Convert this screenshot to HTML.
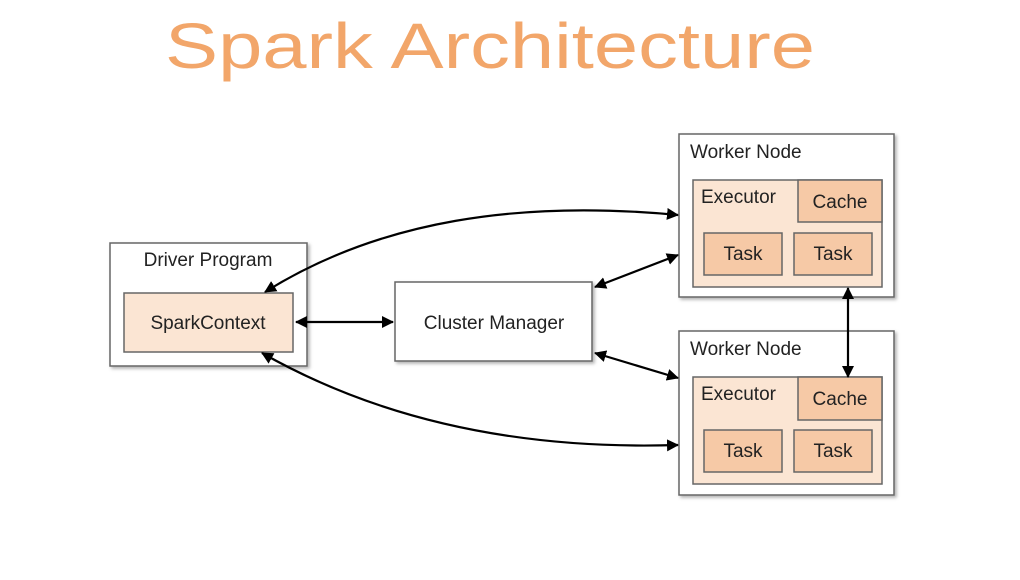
<!DOCTYPE html>
<html><head><style>body{margin:0;background:#fff}svg{display:block}</style></head><body>
<svg width="1020" height="580" viewBox="0 0 1020 580" xmlns="http://www.w3.org/2000/svg" font-family="Liberation Sans, sans-serif">
<defs>
<marker id="a" markerWidth="12" markerHeight="12" refX="11" refY="6" orient="auto-start-reverse" markerUnits="userSpaceOnUse"><path d="M0,0 L12,6 L0,12 z" fill="#000"/></marker>
<filter id="s" x="-5%" y="-5%" width="115%" height="115%"><feDropShadow dx="2" dy="2" stdDeviation="1.5" flood-opacity="0.3"/></filter>
</defs>
<text x="165" y="68" font-size="64" fill="#f2a66a" textLength="650" lengthAdjust="spacingAndGlyphs" font-family="Liberation Sans, sans-serif">Spark Architecture</text>
<g stroke="#666" stroke-width="1.5">
<rect x="110" y="243" width="197" height="123" fill="#fff" filter="url(#s)"/>
<rect x="124" y="293" width="169" height="59" fill="#fbe5d3"/>
<rect x="395" y="282" width="197" height="79" fill="#fff" filter="url(#s)"/>
<rect x="679" y="134" width="215" height="163" fill="#fff" filter="url(#s)"/>
<rect x="693" y="180" width="189" height="107" fill="#fbe5d3"/>
<rect x="798" y="180" width="84" height="42" fill="#f6c9a6"/>
<rect x="704" y="233" width="78" height="42" fill="#f6c9a6"/>
<rect x="794" y="233" width="78" height="42" fill="#f6c9a6"/>
<rect x="679" y="331" width="215" height="164" fill="#fff" filter="url(#s)"/>
<rect x="693" y="377" width="189" height="107" fill="#fbe5d3"/>
<rect x="798" y="377" width="84" height="43" fill="#f6c9a6"/>
<rect x="704" y="430" width="78" height="42" fill="#f6c9a6"/>
<rect x="794" y="430" width="78" height="42" fill="#f6c9a6"/>
</g>
<g font-size="19" fill="#222">
<text x="208" y="266" text-anchor="middle">Driver Program</text>
<text x="208" y="329" text-anchor="middle">SparkContext</text>
<text x="494" y="329" text-anchor="middle">Cluster Manager</text>
<text x="690" y="158">Worker Node</text>
<text x="701" y="203">Executor</text>
<text x="840" y="208" text-anchor="middle">Cache</text>
<text x="743" y="260" text-anchor="middle">Task</text>
<text x="833" y="260" text-anchor="middle">Task</text>
<text x="690" y="355">Worker Node</text>
<text x="701" y="400">Executor</text>
<text x="840" y="405" text-anchor="middle">Cache</text>
<text x="743" y="457" text-anchor="middle">Task</text>
<text x="833" y="457" text-anchor="middle">Task</text>
</g>
<g stroke="#000" stroke-width="2.2" fill="none" marker-start="url(#a)" marker-end="url(#a)">
<path d="M265,292 C380,220 520,200 678,215"/>
<path d="M262,353 C380,420 520,450 678,445"/>
<path d="M296,322 L393,322"/>
<path d="M595,287 L678,255"/>
<path d="M595,353 L678,378"/>
<path d="M848,288 L848,377"/>
</g>
</svg>
</body></html>
